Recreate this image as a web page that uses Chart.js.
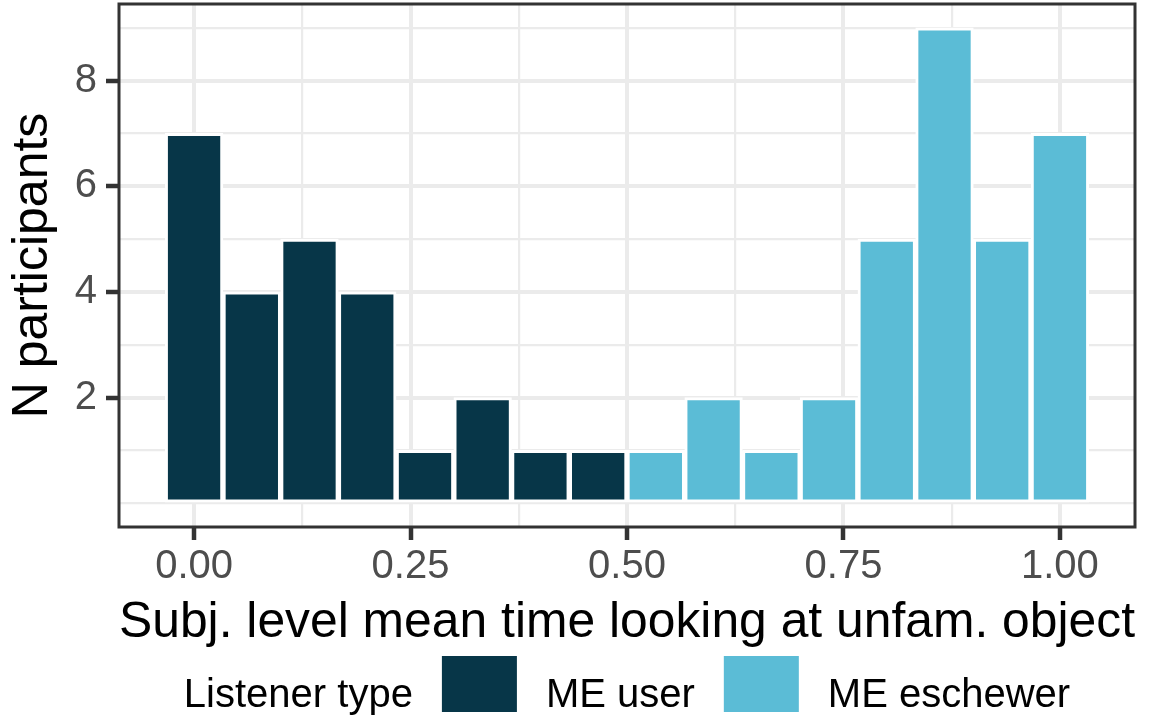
<!DOCTYPE html>
<html>
<head>
<meta charset="utf-8">
<title>Subj. level mean time looking at unfam. object</title>
<script src="https://cdn.jsdelivr.net/npm/chart.js@4.4.1/dist/chart.umd.min.js"></script>
<style>
  html, body { margin: 0; padding: 0; background: #fff; }
  #wrap { width: 1160px; height: 717px; }
</style>
</head>
<body>
<div id="wrap"><canvas id="hist" width="1160" height="717"></canvas></div>
<script>
// bin centres (bin width 1/15) and counts
const userBins = [0, 0.0667, 0.1333, 0.2, 0.2667, 0.3333, 0.4, 0.4667];
const userCounts = [7, 4, 5, 4, 1, 2, 1, 1];
const eschewerBins = [0.5333, 0.6, 0.6667, 0.7333, 0.8, 0.8667, 0.9333, 1.0];
const eschewerCounts = [1, 2, 1, 2, 5, 9, 5, 7];

const groupNames = ["ME user", "ME eschewer"];
const groupColors = ["#073648", "#5BBCD6"];
const legendTitle = "Listener type";

// axis breaks
const xMajor = [0, 0.25, 0.5, 0.75, 1.0];
const xMinor = [0.125, 0.375, 0.625, 0.875];
const yMajor = [2, 4, 6, 8];
const yMinor = [0, 1, 3, 5, 7, 9];

const FONT = "'Liberation Sans', Arial, Helvetica, sans-serif";
const TICK_LEN = 13;

// ggplot-like panel border (over the bars) and the x tick marks
const panelBorder = {
  id: "panelBorder",
  afterDraw(chart) {
    const a = chart.chartArea;
    const ctx = chart.ctx;
    const xs = chart.scales.x;
    ctx.save();
    ctx.strokeStyle = "#333333";
    ctx.lineWidth = 4.5;
    xMajor.forEach(v => {
      const px = Math.round(xs.getPixelForValue(v));
      ctx.beginPath();
      ctx.moveTo(px, a.bottom);
      ctx.lineTo(px, a.bottom + TICK_LEN);
      ctx.stroke();
    });
    ctx.lineWidth = 3;
    ctx.strokeRect(a.left, a.top, a.right - a.left, a.bottom - a.top);
    ctx.restore();
  }
};

// horizontal legend at the bottom, with its title inline on the left
const inlineLegend = {
  id: "inlineLegend",
  afterDraw(chart) {
    const ctx = chart.ctx;
    const a = chart.chartArea;
    const keyW = 75, keyH = 56, gap = 29;
    const keyTop = 656, baseline = 707;
    ctx.save();
    ctx.font = "40px " + FONT;
    ctx.textBaseline = "alphabetic";
    ctx.textAlign = "left";
    const titleW = ctx.measureText(legendTitle).width;
    const labelW = groupNames.map(n => ctx.measureText(n).width);
    let total = titleW;
    labelW.forEach(w => { total += gap + keyW + gap + w; });
    let x = (a.left + a.right) / 2 - total / 2;
    ctx.fillStyle = "#000";
    ctx.fillText(legendTitle, x, baseline);
    x += titleW;
    groupNames.forEach((name, i) => {
      x += gap;
      ctx.fillStyle = groupColors[i];
      ctx.fillRect(x, keyTop, keyW, keyH);
      x += keyW + gap;
      ctx.fillStyle = "#000";
      ctx.fillText(name, x, baseline);
      x += labelW[i];
    });
    ctx.restore();
  }
};

const datasets = [
  {
    label: groupNames[0],
    data: userBins.map((b, i) => ({ x: b, y: userCounts[i] })),
    backgroundColor: groupColors[0]
  },
  {
    label: groupNames[1],
    data: eschewerBins.map((b, i) => ({ x: b, y: eschewerCounts[i] })),
    backgroundColor: groupColors[1]
  }
].map(d => Object.assign(d, {
  borderColor: "#ffffff",
  borderWidth: 3,
  borderSkipped: false,
  grouped: false,
  barPercentage: 1,
  categoryPercentage: 1
}));

const isMajor = (list, c) => !!c.tick && list.some(m => Math.abs(m - c.tick.value) < 1e-9);
const isMajorVal = (list, v) => list.some(m => Math.abs(m - v) < 1e-9);

// no extra room for half-labels at the panel edges
const noEdgePadding = s => {
  s.paddingTop = 0; s.paddingBottom = 0;
  s.paddingLeft = 0; s.paddingRight = 0;
};

const config = {
  type: "bar",
  data: { datasets: datasets },
  options: {
    responsive: false,
    animation: false,
    layout: { padding: { top: 4, right: 25, bottom: 57, left: 0 } },
    plugins: {
      legend: { display: false },
      tooltip: { enabled: false }
    },
    scales: {
      x: {
        type: "linear",
        offset: false,
        min: -0.0867,
        max: 1.0867,
        afterBuildTicks: s => { s.ticks = xMajor.concat(xMinor).sort((a, b) => a - b).map(v => ({ value: v })); },
        afterFit: s => { s.height = 133; noEdgePadding(s); },
        border: { display: false },
        grid: {
          offset: false,
          drawTicks: false,
          color: "#EBEBEB",
          lineWidth: c => isMajor(xMajor, c) ? 4 : 2.2
        },
        ticks: {
          autoSkip: false,
          maxRotation: 0,
          padding: TICK_LEN + 3,
          color: "#4D4D4D",
          font: { family: FONT, size: 40 },
          callback: v => isMajorVal(xMajor, v) ? v.toFixed(2) : ""
        },
        title: {
          display: true,
          text: "Subj. level mean time looking at unfam. object",
          color: "#000",
          font: { family: FONT, size: 50 },
          padding: { top: 0, bottom: 7 }
        }
      },
      y: {
        min: -0.45,
        max: 9.45,
        afterBuildTicks: s => { s.ticks = yMajor.concat(yMinor).sort((a, b) => a - b).map(v => ({ value: v })); },
        afterFit: s => { s.width = 119; noEdgePadding(s); },
        border: { display: false },
        grid: {
          color: "#EBEBEB",
          lineWidth: c => isMajor(yMajor, c) ? 4 : 2.2,
          tickLength: TICK_LEN,
          tickWidth: 4.5,
          tickColor: c => isMajor(yMajor, c) ? "#333333" : "rgba(0,0,0,0)"
        },
        ticks: {
          autoSkip: false,
          padding: 9,
          color: "#4D4D4D",
          font: { family: FONT, size: 40 },
          callback: v => isMajorVal(yMajor, v) ? String(v) : ""
        },
        title: {
          display: true,
          text: "N participants",
          color: "#000",
          font: { family: FONT, size: 50 },
          padding: { top: 3, bottom: 0 }
        }
      }
    }
  },
  plugins: [panelBorder, inlineLegend]
};

const histChart = new Chart(document.getElementById("hist"), config);
</script>
</body>
</html>
